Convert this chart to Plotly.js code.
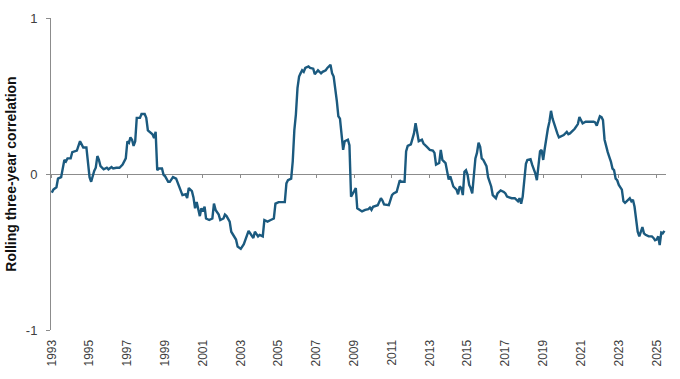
<!DOCTYPE html>
<html>
<head>
<meta charset="utf-8">
<script src="https://cdn.plot.ly/plotly-3.0.1.min.js"></script>
<style>
  html, body { margin: 0; padding: 0; background: #ffffff; }
  #chart { width: 680px; height: 379px; }
</style>
</head>
<body>
<div id="chart"></div>
<script>
const dates = [
  "1993-01","1993-02","1993-04","1993-05","1993-07","1993-08","1993-09","1993-10","1993-11",
  "1994-01","1994-02","1994-05","1994-07","1994-08","1994-09","1994-11","1994-12",
  "1995-01","1995-02","1995-03","1995-04","1995-05","1995-06","1995-07","1995-08","1995-10","1995-12",
  "1996-01","1996-03","1996-04","1996-06","1996-08","1996-10","1996-12",
  "1997-01","1997-02","1997-03","1997-04","1997-05","1997-06","1997-07","1997-09","1997-10","1997-12",
  "1998-01","1998-02","1998-04","1998-05","1998-06","1998-07","1998-08","1998-09","1998-11","1998-12",
  "1999-01","1999-03","1999-04","1999-06","1999-08","1999-10","1999-11","1999-12",
  "2000-02","2000-03","2000-04","2000-06","2000-07","2000-08","2000-09","2000-11","2000-12",
  "2001-01","2001-02","2001-03","2001-05","2001-07","2001-08","2001-09","2001-11","2001-12",
  "2002-02","2002-03","2002-04","2002-06","2002-07","2002-08","2002-10","2002-11",
  "2003-01","2003-03","2003-04","2003-06","2003-07","2003-09","2003-10","2003-12",
  "2004-01","2004-03","2004-04","2004-06","2004-08","2004-10","2004-11",
  "2005-01","2005-03","2005-05","2005-06","2005-07","2005-09","2005-10","2005-11","2005-12",
  "2006-01","2006-02","2006-03","2006-04","2006-05","2006-06","2006-08","2006-09","2006-11","2006-12",
  "2007-02","2007-04","2007-05","2007-07","2007-08","2007-10","2007-11","2007-12",
  "2008-02","2008-03","2008-04","2008-05","2008-06","2008-07","2008-09","2008-10","2008-11",
  "2009-01","2009-02","2009-03","2009-05","2009-06","2009-08","2009-10","2009-11","2009-12",
  "2010-01","2010-03","2010-04","2010-06","2010-07","2010-08","2010-10","2010-11",
  "2011-01","2011-02","2011-04","2011-05","2011-06","2011-07","2011-09","2011-10","2011-11",
  "2012-01","2012-02","2012-03","2012-04","2012-05","2012-06","2012-08","2012-09","2012-11","2012-12",
  "2013-01","2013-03","2013-04","2013-05","2013-07","2013-08","2013-09","2013-11","2013-12",
  "2014-01","2014-02","2014-03","2014-04","2014-06","2014-07","2014-08","2014-09","2014-10","2014-11","2014-12",
  "2015-01","2015-02","2015-03","2015-04","2015-05","2015-06","2015-07","2015-08","2015-09","2015-10","2015-11",
  "2016-01","2016-02","2016-03","2016-04","2016-05","2016-07","2016-08","2016-10","2016-12",
  "2017-01","2017-02","2017-04","2017-05","2017-07","2017-09","2017-10","2017-11","2017-12",
  "2018-01","2018-02","2018-03","2018-05","2018-06","2018-08","2018-09","2018-10","2018-11","2018-12",
  "2019-01","2019-02","2019-03","2019-04","2019-05","2019-06","2019-07","2019-09","2019-10","2019-11","2019-12",
  "2020-02","2020-04","2020-05","2020-06","2020-08","2020-09","2020-11","2020-12",
  "2021-01","2021-02","2021-04","2021-05","2021-07","2021-09","2021-10","2021-11","2021-12",
  "2022-01","2022-02","2022-03","2022-04","2022-05","2022-06","2022-07","2022-08","2022-09","2022-10","2022-11","2022-12",
  "2023-01","2023-03","2023-04","2023-05","2023-06","2023-08","2023-09","2023-10","2023-11","2023-12",
  "2024-01","2024-02","2024-03","2024-04","2024-05","2024-06","2024-08","2024-10","2024-11","2024-12",
  "2025-01","2025-02","2025-03","2025-04","2025-05","2025-06"
];
const correlation = [
  -0.12,-0.10,-0.085,-0.03,-0.02,0.05,0.09,0.08,0.10,
  0.10,0.14,0.15,0.21,0.19,0.17,0.17,0.06,
  -0.02,-0.05,-0.01,0.02,0.04,0.115,0.09,0.05,0.03,0.04,
  0.03,0.045,0.035,0.04,0.04,0.06,0.10,
  0.21,0.20,0.235,0.22,0.18,0.21,0.36,0.36,0.385,0.385,
  0.36,0.28,0.265,0.255,0.23,0.27,0.025,0.035,0.035,-0.005,
  -0.015,-0.05,-0.05,-0.02,-0.03,-0.08,-0.10,-0.135,
  -0.13,-0.155,-0.09,-0.11,-0.15,-0.22,-0.18,-0.27,-0.22,
  -0.24,-0.21,-0.285,-0.295,-0.285,-0.19,-0.23,-0.26,-0.295,
  -0.285,-0.26,-0.27,-0.305,-0.37,-0.39,-0.42,-0.465,
  -0.48,-0.45,-0.42,-0.365,-0.38,-0.41,-0.37,-0.40,
  -0.39,-0.40,-0.295,-0.305,-0.295,-0.285,-0.19,
  -0.18,-0.18,-0.18,-0.06,-0.04,-0.03,0.08,0.28,0.38,
  0.55,0.625,0.645,0.665,0.655,0.68,0.69,0.68,0.675,0.64,
  0.665,0.645,0.655,0.665,0.68,0.70,0.645,0.625,
  0.465,0.37,0.355,0.26,0.155,0.21,0.22,0.185,-0.145,
  -0.11,-0.09,-0.22,-0.235,-0.24,-0.23,-0.225,-0.215,-0.23,
  -0.21,-0.20,-0.20,-0.155,-0.17,-0.195,-0.20,-0.20,
  -0.135,-0.125,-0.115,-0.08,-0.04,-0.05,-0.05,0.145,0.18,
  0.19,0.23,0.26,0.325,0.27,0.21,0.22,0.195,0.175,0.165,
  0.155,0.15,0.135,0.06,0.07,0.155,0.09,0.07,0.025,
  -0.035,-0.015,-0.04,-0.08,-0.10,-0.13,-0.08,-0.09,-0.135,0.015,0.025,
  -0.005,-0.07,-0.09,-0.125,-0.015,0.10,0.135,0.20,0.175,0.10,0.09,
  0.05,-0.02,-0.045,-0.08,-0.135,-0.155,-0.125,-0.105,-0.115,
  -0.125,-0.145,-0.15,-0.155,-0.155,-0.175,-0.155,-0.19,-0.145,
  -0.04,0.065,0.09,0.095,0.06,0.005,-0.04,0.035,0.145,0.155,
  0.09,0.165,0.23,0.29,0.335,0.405,0.355,0.28,0.26,0.235,0.24,
  0.25,0.27,0.255,0.26,0.28,0.29,0.32,0.365,
  0.345,0.325,0.335,0.335,0.335,0.335,0.33,0.31,0.34,
  0.37,0.365,0.345,0.22,0.175,0.14,0.11,0.08,0.035,0.025,-0.03,-0.04,
  -0.07,-0.10,-0.175,-0.185,-0.175,-0.155,-0.175,-0.165,-0.21,-0.305,
  -0.37,-0.40,-0.37,-0.34,-0.38,-0.39,-0.40,-0.40,-0.41,-0.425,
  -0.42,-0.40,-0.455,-0.375,-0.38,-0.365
];
const yTickVals = [-1, 0, 1];
const yTickText = ["-1", "0", "1"];
const yTitle = "Rolling three-year correlation";

const xRange = ["1992-12-17", "2025-07-01"];
const lineColor = "#1b5a7f";
const axisColor = "#8c8c8c";

const traces = [
  {
    x: dates, y: correlation, type: "scatter", mode: "lines",
    line: { color: lineColor, width: 2.4 },
    xaxis: "x", yaxis: "y", hoverinfo: "skip", showlegend: false
  },
  {
    x: dates, y: correlation, type: "scatter", mode: "lines",
    line: { color: "rgba(0,0,0,0)", width: 0 },
    xaxis: "x2", yaxis: "y", hoverinfo: "skip", showlegend: false
  }
];

const layout = {
  width: 680, height: 379,
  margin: { l: 51, r: 14, t: 18, b: 49 },
  paper_bgcolor: "#ffffff", plot_bgcolor: "#ffffff",
  font: { family: "Liberation Sans, Arial, sans-serif", color: "#404040" },
  showlegend: false,
  xaxis: {
    type: "date", range: xRange,
    tick0: "1993-01-01", dtick: "M24", tickformat: "%Y",
    tickangle: -90, ticks: "outside", ticklen: 4, tickcolor: "rgba(0,0,0,0)",
    showline: false, showgrid: false, zeroline: false,
    tickfont: { size: 12, color: "#404040" }
  },
  xaxis2: {
    type: "date", range: xRange, overlaying: "x", anchor: "free", position: 0.5,
    tick0: "1993-01-01", dtick: "M24",
    showticklabels: false, ticks: "outside", ticklen: 3, tickcolor: axisColor, tickwidth: 1,
    showline: true, linecolor: axisColor, linewidth: 1,
    showgrid: false, zeroline: false, layer: "below traces"
  },
  yaxis: {
    range: [-1, 1], tickvals: yTickVals, ticktext: yTickText,
    ticks: "outside", ticklen: 4, tickcolor: axisColor,
    showline: true, linecolor: axisColor, linewidth: 1,
    showgrid: false, zeroline: false,
    tickfont: { size: 13, color: "#404040" },
    ticklabelstandoff: 6,
    title: { text: yTitle, font: { size: 14, color: "#111111", family: "Liberation Sans, Arial, sans-serif", weight: "bold" }, standoff: 5 }
  }
};

Plotly.newPlot("chart", traces, layout, { displayModeBar: false, staticPlot: true });
</script>
</body>
</html>
